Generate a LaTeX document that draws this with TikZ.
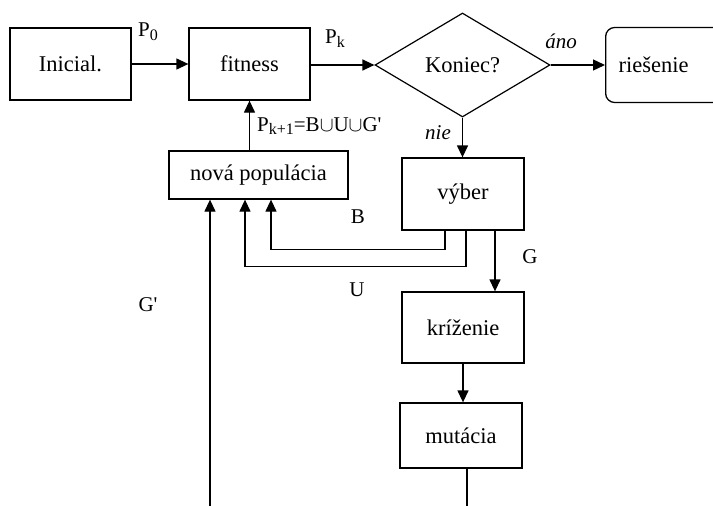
\documentclass[tikz,border=0pt]{standalone}
\usepackage{fontspec}
\setmainfont{Liberation Serif}
\usetikzlibrary{shapes.geometric,arrows.meta}

% lowered index, set nearly full size
\newcommand\lowidx[1]{\raisebox{-0.4ex}{\fontsize{16}{16}\selectfont #1}}

\tikzset{
  box/.style={draw, line width=1.3pt, inner sep=0pt, font=\fontsize{22.5}{26}\selectfont},
  decision/.style={draw, diamond, line width=1.2pt, inner sep=0pt, aspect=1.7,
    minimum width=175pt, minimum height=104pt, font=\fontsize{22.5}{26}\selectfont},
  arr/.style={line width=1.3pt, -{Triangle[length=12pt,width=11pt]}},
  wire/.style={line width=1.3pt},
  lbl/.style={inner sep=0pt, font=\fontsize{21}{24}\selectfont},
}

\begin{document}
\begin{tikzpicture}[x=1pt,y=-1pt]
  \clip (0,0) rectangle (713,506);
  \fill[white] (0,0) rectangle (713,506);

  % main row
  \node[box, minimum width=121pt, minimum height=72pt] (init) at (70.5,64) {Inicial.};
  \node[box, minimum width=121pt, minimum height=72pt] (fit)  at (249.5,64) {fitness};
  \node[decision] (end) at (462.5,65) {Koniec?};
  \node[box, rounded corners=9pt, anchor=west, minimum height=75pt,
        text width=130pt, inner xsep=13pt, align=left] (sol) at (605,65) {riešenie};

  % loop body
  \node[box, minimum width=179pt, minimum height=48pt] (newpop) at (258.5,175) {nová populácia};
  \node[box, minimum width=122pt, minimum height=72pt] (sel)  at (463,194) {výber};
  \node[box, minimum width=122pt, minimum height=71pt] (cross) at (463,327.5) {kríženie};
  \node[box, minimum width=122pt, minimum height=65pt] (mut)  at (461,435.5) {mutácia};

  % free ends leaving the lower edge
  \coordinate (mutout) at (467,520);
  \coordinate (gin)    at (210,520);

  % connectors
  \draw[arr] (init) -- (fit);
  \draw[arr] (fit.east |- end.west) -- (end.west);
  \draw[arr] (end.east) -- (sol.west);
  \draw[arr] (end.south) -- (end.south |- sel.north);
  \draw[arr] (newpop.north -| fit.south) -- (fit.south);
  \draw[arr] ([xshift=-18pt]sel.south) -- ++(0,19) -| ([xshift=12.5pt]newpop.south);
  \draw[arr] ([xshift=3pt]sel.south) -- ++(0,36) -| ([xshift=-13.5pt]newpop.south);
  \draw[arr] ([xshift=32pt]sel.south) -- ([xshift=32pt]cross.north);
  \draw[arr] (cross.south) -- (cross.south |- mut.north);
  \draw[wire] (mut.south -| mutout) -- (mutout);
  \draw[arr] (gin) -- ([xshift=-48.5pt]newpop.south);

  % labels
  \node[lbl] (lp0) at (148,32) {P\lowidx{0}};
  \node[lbl] (lpk) at (335,39) {P\lowidx{k}};
  \node[lbl, anchor=west] (lpk1) at (257,126) {P\lowidx{k+1}=B$\cup$U$\cup$G\textquotesingle};
  \node[lbl] (lyes) at (561,41) {\itshape áno};
  \node[lbl] (lno) at (438,133) {\itshape nie};
  \node[lbl] (lb) at (358,217) {B};
  \node[lbl] (lg) at (530,257) {G};
  \node[lbl] (lu) at (357,290) {U};
  \node[lbl] (lgp) at (148,305) {G\textquotesingle};
\end{tikzpicture}
\end{document}
